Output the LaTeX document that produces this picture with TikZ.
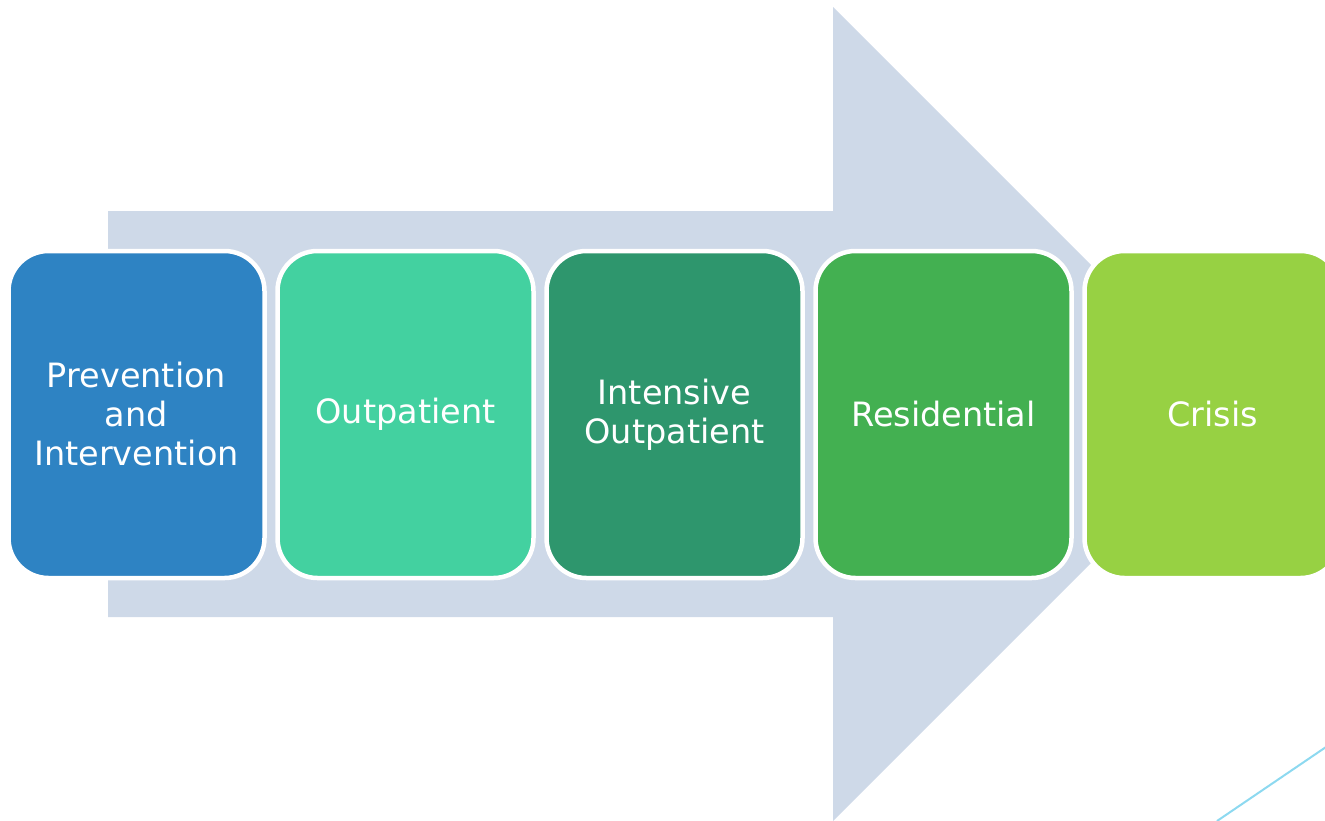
\documentclass[tikz,border=0pt]{standalone}
\usepackage{fontspec}
\setmainfont{DejaVu Sans}
\definecolor{arrowc}{RGB}{206,217,232}
\definecolor{c1}{RGB}{46,131,195}
\definecolor{c2}{RGB}{67,209,160}
\definecolor{c3}{RGB}{46,150,109}
\definecolor{c4}{RGB}{67,176,81}
\definecolor{c5}{RGB}{151,209,67}
\definecolor{linec}{RGB}{141,217,240}
\tikzset{
  stage/.style={draw=white, line width=4.5pt, rounded corners=40pt,
    minimum width=256pt, minimum height=327pt, inner sep=0pt,
    text=white, align=center,
    font=\fontsize{33.5}{39}\selectfont}
}
\begin{document}
\begin{tikzpicture}[x=1pt,y=-1pt]
\useasboundingbox (0,0) rectangle (1325,820);
\clip (0,0) rectangle (1325,820);
\fill[arrowc] (108,211) -- (833,211) -- (833,7) -- (1240,414) -- (833,821) -- (833,617) -- (108,617) -- cycle;
\node[stage, fill=c1] (s1) at (136.5,414.5) {Prevention\\and\\Intervention};
\node[stage, fill=c2] (s2) at (405.5,414.5) {Outpatient};
\node[stage, fill=c3] (s3) at (674.5,414.5) {Intensive\\Outpatient};
\node[stage, fill=c4] (s4) at (943.5,414.5) {Residential};
\node[stage, fill=c5] (s5) at (1212.5,414.5) {Crisis};
\coordinate (la) at (1217,821);
\coordinate (lb) at (1326,747);
\draw[linec, line width=2pt] (la) -- (lb);
\end{tikzpicture}
\end{document}
